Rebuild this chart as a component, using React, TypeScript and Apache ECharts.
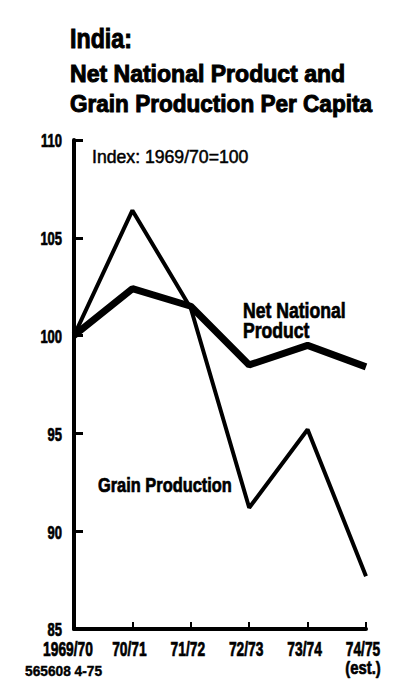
import React, { useEffect, useRef } from "react";
import * as echarts from "echarts";

const categories = ["1969/70", "70/71", "71/72", "72/73", "73/74", "74/75"];
const categoryNotes = ["", "", "", "", "", "(est.)"];
const netNationalProduct = [100, 102.4, 101.5, 98.5, 99.5, 98.4];
const grainProduction = [100, 106.4, 101.4, 91.2, 95.2, 87.7];
const yTickValues = [85, 90, 95, 100, 105, 110];
const titleLines = ["India:", "Net National Product and", "Grain Production Per Capita"];

const FONT = "'Liberation Sans', Arial, sans-serif";

export default function App() {
  const ref = useRef<HTMLDivElement>(null);
  useEffect(() => {
    if (!ref.current) return;
    const chart = echarts.init(ref.current, null, { renderer: "svg" });
    chart.setOption({
      animation: false,
      backgroundColor: "#ffffff",
      grid: { left: 74, right: 38, top: 140, bottom: 60, containLabel: false },
      xAxis: {
        type: "category",
        data: categories,
        boundaryGap: false,
        axisLine: { lineStyle: { color: "#000", width: 4 } },
        axisTick: { inside: true, length: 7, lineStyle: { color: "#000", width: 2 } },
        axisLabel: { show: false },
        splitLine: { show: false },
      },
      yAxis: {
        type: "value",
        min: 85,
        max: 110,
        interval: 5,
        axisLine: { show: true, lineStyle: { color: "#000", width: 4 } },
        axisTick: { show: true, inside: true, length: 9, lineStyle: { color: "#000", width: 3 } },
        axisLabel: { show: false },
        splitLine: { show: false },
      },
      series: [
        {
          name: "Net National Product",
          type: "line",
          data: netNationalProduct,
          symbol: "none",
          lineStyle: { color: "#000", width: 7 },
          z: 3,
        },
        {
          name: "Grain Production",
          type: "line",
          data: grainProduction,
          symbol: "none",
          lineStyle: { color: "#000", width: 4 },
          z: 4,
        },
      ],
    });

    const txt = (
      text: string,
      x: number,
      y: number,
      size: number,
      weight: string,
      scaleX: number,
      align: string,
      stroke = 0.7
    ) => ({
      type: "text",
      x,
      y,
      scaleX,
      silent: true,
      style: {
        text,
        x: 0,
        y: 0,
        align,
        verticalAlign: "middle",
        font: `${weight} ${size}px ${FONT}`,
        fill: "#000",
        stroke: stroke > 0 ? "#000" : undefined,
        lineWidth: stroke,
      },
    });

    const graphics: any[] = [];
    graphics.push(txt(titleLines[0], 70, 38, 28, "bold", 0.83, "left", 1));
    graphics.push(txt(titleLines[1], 70, 73.5, 24, "bold", 0.96, "left", 1));
    graphics.push(txt(titleLines[2], 70, 103.5, 24, "bold", 0.94, "left", 1));
    yTickValues.forEach((v) => {
      const p = chart.convertToPixel({ gridIndex: 0 }, [0, v]);
      graphics.push(txt(String(v), 62, p[1] + 1, 18, "bold", 0.72, "right"));
    });
    categories.forEach((c, i) => {
      const p = chart.convertToPixel({ gridIndex: 0 }, [i, 85]);
      const cx = p[0] + (i === 0 ? -6 : -3);
      graphics.push(txt(c, cx, 649, 20, "bold", 0.69, "center"));
      if (categoryNotes[i]) {
        graphics.push(txt(categoryNotes[i], cx, 668, 19, "bold", 0.78, "center"));
      }
    });
    graphics.push(txt("Index: 1969/70=100", 92, 156.5, 18, "normal", 0.98, "left", 0.5));
    graphics.push(txt("Net National", 243, 310, 22, "bold", 0.8, "left"));
    graphics.push(txt("Product", 243, 330.5, 22, "bold", 0.8, "left"));
    graphics.push(txt("Grain Production", 98, 485, 20, "bold", 0.82, "left"));
    graphics.push(txt("565608 4-75", 25, 671, 14, "bold", 0.98, "left", 0.4));

    chart.setOption({ graphic: graphics });
    return () => chart.dispose();
  }, []);
  return <div ref={ref} style={{ width: 404, height: 689, position: "absolute", left: 0, top: 0 }} />;
}
